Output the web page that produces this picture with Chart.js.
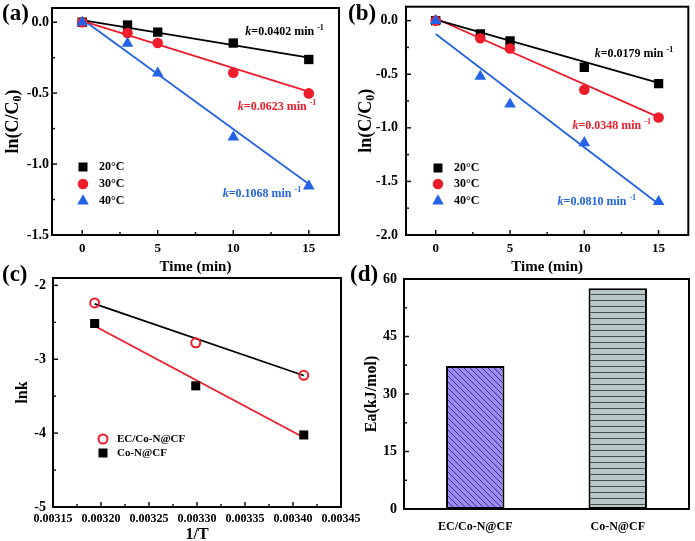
<!DOCTYPE html>
<html>
<head>
<meta charset="utf-8">
<script src="https://cdn.jsdelivr.net/npm/chart.js@4.4.0/dist/chart.umd.min.js"></script>
<style>
  html, body { margin: 0; padding: 0; background: #fff; }
  #wrap { position: relative; width: 695px; height: 541px; overflow: hidden; }
  #wrap canvas { position: absolute; left: 0; top: 0; }
</style>
</head>
<body>
<div id="wrap">
  <canvas id="chartA" width="695" height="541"></canvas>
  <canvas id="chartB" width="695" height="541"></canvas>
  <canvas id="chartC" width="695" height="541"></canvas>
  <canvas id="chartD" width="695" height="541"></canvas>
</div>
<script>
// ---- data ----
const timeMin = [0, 3, 5, 10, 15];
const fitX = [0, 15];

// (a)
const aT20 = [0, -0.02, -0.07, -0.147, -0.263];
const aT30 = [0, -0.077, -0.147, -0.356, -0.502];
const aT40 = [0, -0.15, -0.36, -0.81, -1.155];
const aFit20 = [0.015, -0.25];
const aFit30 = [0.01, -0.49];
const aFit40 = [0.02, -1.14];

// (b)
const bT20 = [0, -0.125, -0.19, -0.435, -0.588];
const bT30 = [0, -0.165, -0.26, -0.645, -0.904];
const bT40 = [0, -0.52, -0.78, -1.14, -1.69];
const bFit20 = [0.01, -0.58];
const bFit30 = [0.02, -0.9];
const bFit40 = [-0.125, -1.71];

// (c)
const invT = [0.0031934, 0.0032987, 0.0034112];
const lnkEC = [-2.238, -2.777, -3.217];
const lnkCoN = [-2.516, -3.36, -4.025];
const fitEC = [-2.25, -3.22];
const fitCoN = [-2.55, -4.06];

// (d)
const catalysts = ['EC/Co-N@CF', 'Co-N@CF'];
const eaValues = [37.3, 57.6];

// tick labels
const timeTicks = [0, 5, 10, 15];
const aYTicks = [-1.5, -1, -0.5, 0];
const bYTicks = [-2, -1.5, -1, -0.5, 0];
const cXTicks = [0.00315, 0.0032, 0.00325, 0.0033, 0.00335, 0.0034, 0.00345];
const cYTicks = [-5, -4, -3, -2];
const dYTicks = [0, 15, 30, 45, 60];

const SERIF = '"Liberation Serif", "Times New Roman", serif';
const RED = '#ef1c2b';
const BLUE = '#2462e6';
const BLACK = '#000';

function pts(xs, ys) {
    return xs.map((x, i) => ({ x: x, y: ys[i] }));
}

function midpoints(ticks) {
    const s = ticks.slice().sort((p, q) => p - q);
    const out = [];
    for (let i = 1; i < s.length; i++) out.push((s[i - 1] + s[i]) / 2);
    return out;
}

// fixed axis size, and no extra room asked for the end labels
function fixSize(prop, size) {
    return s => {
        s[prop] = size;
        s.paddingTop = 0;
        s.paddingBottom = 0;
        s.paddingLeft = 0;
        s.paddingRight = 0;
    };
}

// draws text made of parts: [text, kind], kind '' | 'i' | 'sup' | 'sub'
function richText(ctx, parts, x, y, size, color, align) {
    const fontOf = p => (p[1] === 'i' ? 'italic ' : '') + 'bold ' +
        (p[1] === 'sup' || p[1] === 'sub' ? Math.round(size * 0.68) : size) + 'px ' + SERIF;
    let w = 0;
    parts.forEach(p => { ctx.font = fontOf(p); w += ctx.measureText(p[0]).width; });
    let cx = align === 'center' ? x - w / 2 : x;
    ctx.fillStyle = color;
    ctx.textAlign = 'left';
    ctx.textBaseline = 'middle';
    parts.forEach(p => {
        ctx.font = fontOf(p);
        const dy = p[1] === 'sup' ? -size * 0.33 : (p[1] === 'sub' ? size * 0.3 : 0);
        ctx.fillText(p[0], cx, y + dy);
        cx += ctx.measureText(p[0]).width;
    });
}

function drawMarker(ctx, style, x, y, color, hollow) {
    ctx.beginPath();
    if (style === 'rect') {
        ctx.rect(x - 4.5, y - 4.5, 9, 9);
    } else if (style === 'circle') {
        ctx.arc(x, y, hollow ? 4.5 : 5.3, 0, Math.PI * 2);
    } else {
        ctx.moveTo(x, y - 6.7);
        ctx.lineTo(x + 5.8, y + 3.4);
        ctx.lineTo(x - 5.8, y + 3.4);
        ctx.closePath();
    }
    if (hollow) {
        ctx.lineWidth = 2;
        ctx.strokeStyle = color;
        ctx.stroke();
    } else {
        ctx.fillStyle = color;
        ctx.fill();
    }
}

// frame, inward ticks, titles, annotations and legend
const framePlugin = {
    id: 'frame',
    afterDraw(chart, args, o) {
        const ctx = chart.ctx;
        const a = chart.chartArea;
        ctx.save();
        ctx.strokeStyle = '#111';
        const seg = (x1, y1, x2, y2) => {
            ctx.beginPath(); ctx.moveTo(x1, y1); ctx.lineTo(x2, y2); ctx.stroke();
        };
        if (o.xTicks) {
            const s = chart.scales.x;
            ctx.lineWidth = 1.5;
            o.xTicks.forEach(v => { const px = s.getPixelForValue(v); seg(px, a.bottom, px, a.bottom - 5); });
            midpoints(o.xTicks).forEach(v => { const px = s.getPixelForValue(v); seg(px, a.bottom, px, a.bottom - 3); });
        }
        if (o.yTicks) {
            const s = chart.scales.y;
            ctx.lineWidth = 1.5;
            o.yTicks.forEach(v => { const py = s.getPixelForValue(v); seg(a.left, py, a.left + 5, py); });
            midpoints(o.yTicks).forEach(v => { const py = s.getPixelForValue(v); seg(a.left, py, a.left + 3, py); });
        }
        ctx.lineWidth = 2;
        ctx.strokeStyle = '#000';
        ctx.strokeRect(a.left, a.top, a.right - a.left, a.bottom - a.top);

        // y axis title (rotated)
        if (o.yTitle) {
            ctx.save();
            ctx.translate(o.yTitle.x, (a.top + a.bottom) / 2);
            ctx.rotate(-Math.PI / 2);
            richText(ctx, o.yTitle.parts, 0, 0, o.yTitle.size || 16, BLACK, 'center');
            ctx.restore();
        }
        // panel letter
        if (o.label) {
            ctx.font = 'bold 23px ' + SERIF;
            ctx.fillStyle = BLACK;
            ctx.textAlign = 'left';
            ctx.textBaseline = 'middle';
            ctx.fillText(o.label.text, o.label.x, o.label.y);
        }
        // rate constant notes, anchored in data units
        (o.notes || []).forEach(n => {
            const px = chart.scales.x.getPixelForValue(n.x);
            const py = chart.scales.y.getPixelForValue(n.y);
            richText(ctx, [['k', 'i'], ['=' + n.k + ' min ', ''], ['-1', 'sup']], px, py, 12, n.color, 'left');
        });
        // legend
        (o.legend || []).forEach(l => {
            drawMarker(ctx, l.style, l.x, l.y, l.color, l.hollow);
            ctx.font = 'bold ' + (l.size || 12) + 'px ' + SERIF;
            ctx.fillStyle = BLACK;
            ctx.textAlign = 'left';
            ctx.textBaseline = 'middle';
            ctx.fillText(l.text, l.x + l.gap, l.y);
        });
        ctx.restore();
    }
};

function tickFont(size) {
    return { family: SERIF, weight: 'bold', size: size };
}

function linearAxis(min, max, ticks, digits, size, pad, fitFn) {
    return {
        type: 'linear',
        min: min,
        max: max,
        grid: { display: false, drawTicks: false },
        border: { display: false },
        afterBuildTicks: s => { s.ticks = ticks.map(v => ({ value: v })); },
        afterFit: fitFn,
        ticks: {
            font: tickFont(size),
            color: BLACK,
            padding: pad,
            callback: v => Number(v).toFixed(digits)
        }
    };
}

function markerSet(xs, ys, style, color, radius, hollow) {
    return {
        data: pts(xs, ys),
        pointStyle: style,
        pointRadius: radius,
        backgroundColor: hollow ? 'rgba(0,0,0,0)' : color,
        borderColor: color,
        borderWidth: hollow ? 2 : 0,
        showLine: false,
        order: 1
    };
}

function fitLine(ys, xs, color) {
    return {
        data: pts(xs, ys),
        showLine: true,
        pointRadius: 0,
        borderColor: color,
        borderWidth: 1.8,
        order: 5
    };
}

function timePanel(id, sets, fits, yMin, yMax, yTicks, layout, extra) {
    const datasets = [
        markerSet(timeMin, sets[2], 'triangle', BLUE, 6.7),
        markerSet(timeMin, sets[1], 'circle', RED, 5.3),
        markerSet(timeMin, sets[0], 'rect', BLACK, 6.6),
        fitLine(fits[0], fitX, BLACK),
        fitLine(fits[1], fitX, RED),
        fitLine(fits[2], fitX, BLUE)
    ];
    const x = linearAxis(-2, 17, timeTicks, 0, 13, 6, fixSize('height', 41));
    x.title = { display: true, text: 'Time (min)', font: tickFont(15), color: BLACK, padding: { top: 0, bottom: 0 } };
    return new Chart(document.getElementById(id), {
        type: 'scatter',
        data: { datasets: datasets },
        options: {
            responsive: false,
            animation: false,
            events: [],
            layout: { padding: layout.padding },
            scales: {
                x: x,
                y: linearAxis(yMin, yMax, yTicks, 1, 14, layout.yPad, fixSize('width', layout.yWidth))
            },
            plugins: {
                legend: { display: false },
                tooltip: { enabled: false },
                frame: Object.assign({ xTicks: timeTicks, yTicks: yTicks }, extra)
            }
        },
        plugins: [framePlugin]
    });
}

function tempLegend(x, gap, ys) {
    return [
        { style: 'rect', color: BLACK, x: x, y: ys[0], gap: gap, text: '20\u00b0C' },
        { style: 'circle', color: RED, x: x, y: ys[1], gap: gap, text: '30\u00b0C' },
        { style: 'triangle', color: BLUE, x: x, y: ys[2], gap: gap, text: '40\u00b0C' }
    ];
}

const lnTitle = [['ln(C/C', ''], ['0', 'sub'], [')', '']];

// (a)
timePanel('chartA', [aT20, aT30, aT40], [aFit20, aFit30, aFit40], -1.5, 0.1, aYTicks,
    { padding: { left: 0, right: 356, top: 8, bottom: 265 }, yWidth: 52, yPad: 3 },
    {
        label: { text: '(a)', x: 2, y: 14 },
        yTitle: { x: 13, parts: lnTitle, size: 18 },
        notes: [
            { x: 10.8, y: -0.068, k: '0.0402', color: BLACK },
            { x: 10.3, y: -0.6, k: '0.0623', color: RED },
            { x: 9.3, y: -1.21, k: '0.1068', color: BLUE }
        ],
        legend: tempLegend(83, 16, [167, 184, 201])
    });

// (b)
timePanel('chartB', [bT20, bT30, bT40], [bFit20, bFit30, bFit40], -2, 0.13, bYTicks,
    { padding: { left: 345, right: 6, top: 5, bottom: 265 }, yWidth: 61, yPad: 8 },
    {
        label: { text: '(b)', x: 348, y: 14 },
        yTitle: { x: 366, parts: lnTitle, size: 18 },
        notes: [
            { x: 10.7, y: -0.315, k: '0.0179', color: BLACK },
            { x: 9.2, y: -0.98, k: '0.0348', color: RED },
            { x: 8.2, y: -1.69, k: '0.0810', color: BLUE }
        ],
        legend: tempLegend(438, 16, [168, 184, 201])
    });

// (c) Arrhenius plot
(function () {
    const x = linearAxis(0.00315, 0.00345, cXTicks, 5, 12, 5, fixSize('height', 34));
    x.title = { display: true, text: '1/T', font: tickFont(16), color: BLACK, padding: { top: 0, bottom: -3 } };
    new Chart(document.getElementById('chartC'), {
        type: 'scatter',
        data: {
            datasets: [
                markerSet(invT, lnkEC, 'circle', RED, 4.5, true),
                markerSet(invT, lnkCoN, 'rect', BLACK, 6.4),
                fitLine(fitEC, [invT[0], invT[2]], BLACK),
                fitLine(fitCoN, [invT[0], invT[2]], RED)
            ]
        },
        options: {
            responsive: false,
            animation: false,
            events: [],
            layout: { padding: { left: 0, right: 354, top: 278, bottom: 0 } },
            scales: {
                x: x,
                y: linearAxis(-5, -1.9, cYTicks, 0, 14, 7, fixSize('width', 53))
            },
            plugins: {
                legend: { display: false },
                tooltip: { enabled: false },
                frame: {
                    xTicks: cXTicks,
                    yTicks: cYTicks,
                    label: { text: '(c)', x: 2, y: 275 },
                    yTitle: { x: 23, parts: [['lnk', '']] },
                    legend: [
                        { style: 'circle', color: RED, hollow: true, x: 103, y: 439, gap: 14, text: 'EC/Co-N@CF', size: 11 },
                        { style: 'rect', color: BLACK, x: 103, y: 453, gap: 14, text: 'Co-N@CF', size: 11 }
                    ]
                }
            }
        },
        plugins: [framePlugin]
    });
})();

// (d) activation energy bars
function hatch(fill, line, kind) {
    const c = document.createElement('canvas');
    c.width = 6;
    c.height = 6;
    const g = c.getContext('2d');
    g.fillStyle = fill;
    g.fillRect(0, 0, 6, 6);
    g.strokeStyle = line;
    g.lineWidth = 1;
    g.beginPath();
    if (kind === 'diag') {
        g.moveTo(0, 0); g.lineTo(6, 6);
        g.moveTo(-1, 5); g.lineTo(1, 7);
        g.moveTo(5, -1); g.lineTo(7, 1);
    } else {
        g.moveTo(0, 0.5); g.lineTo(6, 0.5);
    }
    g.stroke();
    return g.createPattern(c, 'repeat');
}

(function () {
    const ctxD = document.getElementById('chartD').getContext('2d');
    new Chart(ctxD, {
        type: 'bar',
        data: {
            labels: catalysts,
            datasets: [{
                data: eaValues,
                backgroundColor: [hatch('#9c8cf2', '#3f3196', 'diag'), hatch('#b8c8c8', '#45504f', 'horiz')],
                borderColor: '#000',
                borderWidth: 2,
                borderSkipped: false,
                barPercentage: 0.41,
                categoryPercentage: 1
            }]
        },
        options: {
            responsive: false,
            animation: false,
            events: [],
            layout: { padding: { left: 345, right: 6, top: 279, bottom: 0 } },
            scales: {
                x: {
                    grid: { display: false, drawTicks: false },
                    border: { display: false },
                    afterFit: fixSize('height', 32),
                    ticks: { font: tickFont(12), color: BLACK, padding: 11 }
                },
                y: linearAxis(0, 60, dYTicks, 0, 14, 7, fixSize('width', 59))
            },
            plugins: {
                legend: { display: false },
                tooltip: { enabled: false },
                frame: {
                    yTicks: dYTicks,
                    label: { text: '(d)', x: 350, y: 275 },
                    yTitle: { x: 372, parts: [['Ea(kJ/mol)', '']] }
                }
            }
        },
        plugins: [framePlugin]
    });
})();
</script>
</body>
</html>
